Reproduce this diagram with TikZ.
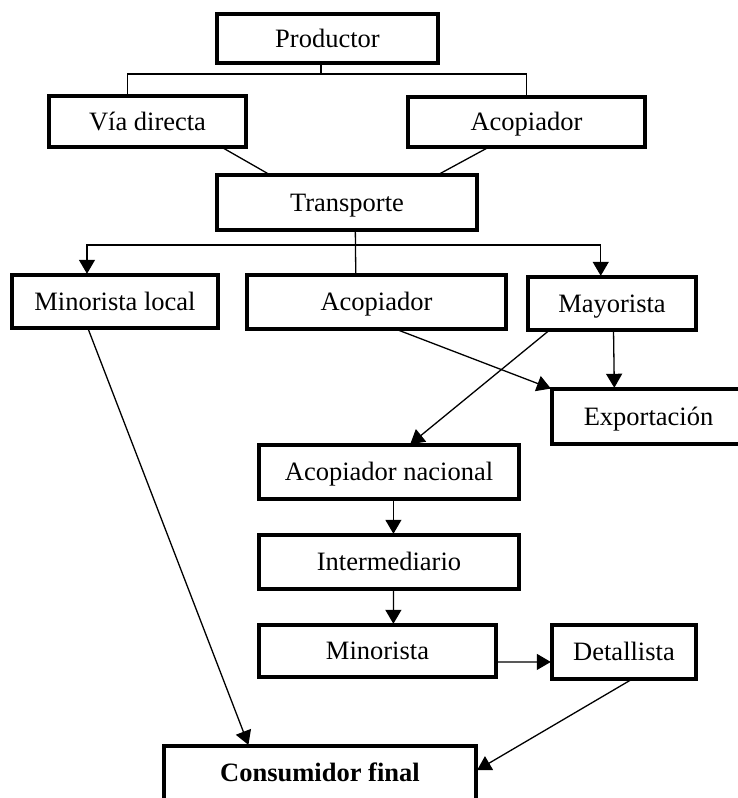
\documentclass[tikz,border=0pt]{standalone}
\usepackage{fontspec}
\setmainfont{Liberation Serif}
\usetikzlibrary{arrows.meta,calc}

\begin{document}
\begin{tikzpicture}[x=1pt,y=-1pt,
  box/.style={draw, line width=3.2pt, rectangle, inner sep=0pt, outer sep=0pt,
    anchor=north west, font=\fontsize{26.5}{30}\selectfont,
    text height=17.5pt, text depth=0pt},
  link/.style={line width=1.3pt},
  flow/.style={line width=1.3pt, shorten >=1.2pt,
    -{Triangle[length=14pt,width=16pt]}},
]
\useasboundingbox (0,0) rectangle (738,798);
\clip (0,0) rectangle (738,798);

% boxes
\node[box, minimum width=221pt, minimum height=49pt] (prod)   at (217,14)  {Productor};
\node[box, minimum width=197pt, minimum height=51pt] (via)    at (49,96)   {Vía directa};
\node[box, minimum width=237pt, minimum height=50pt] (acopA)  at (408,97)  {Acopiador};
\node[box, minimum width=260pt, minimum height=55pt] (trans)  at (217,175) {Transporte};
\node[box, minimum width=206pt, minimum height=53pt] (minloc) at (12,275)  {Minorista local};
\node[box, minimum width=259pt, minimum height=54pt] (acopB)  at (247,275) {Acopiador};
\node[box, minimum width=168pt, minimum height=53pt] (mayor)  at (528,277) {Mayorista};
\node[box, minimum width=193pt, minimum height=55pt] (export) at (552,389) {Exportación};
\node[box, minimum width=260pt, minimum height=54pt] (acnac)  at (259,445) {Acopiador nacional};
\node[box, minimum width=260pt, minimum height=54pt] (inter)  at (259,535) {Intermediario};
\node[box, minimum width=237pt, minimum height=52pt] (minor)  at (259,625) {Minorista};
\node[box, minimum width=144pt, minimum height=54pt] (detal)  at (552,625) {Detallista};
\node[box, line width=3.6pt, minimum width=312pt, minimum height=54pt] (cons) at (164,746)
  {\bfseries Consumidor final};

% productor branches into the two first channels
\coordinate (pS) at ($(prod.south west)!0.47!(prod.south east)$);
\coordinate (vN) at ($(via.north west)!0.40!(via.north east)$);
\draw[link] (pS) -- ++(0,11) coordinate (pJ);
\draw[link] (vN) |- (pJ) -| (acopA.north);

% both channels feed the transport
\draw[link] ($(via.south west)!0.875!(via.south east)$) -- ($(trans.north west)!0.205!(trans.north east)$);
\draw[link] ($(acopA.south west)!0.342!(acopA.south east)$) -- ($(trans.north west)!0.848!(trans.north east)$);

% transport distributes to three buyers
\coordinate (tS) at ($(trans.south west)!0.532!(trans.south east)$);
\draw[link] (tS) -- ($(acopB.north west)!0.42!(acopB.north east)$);
\coordinate (tJ) at ($(tS)+(0,15)$);
\draw[flow] (tJ) -| ($(minloc.north west)!0.364!(minloc.north east)$);
\draw[flow] (tJ) -| ($(mayor.north west)!0.433!(mayor.north east)$);

% towards export and the national chain
\draw[flow] ($(acopB.south west)!0.573!(acopB.south east)$) -- (export.north west);
\draw[flow] ($(mayor.south west)!0.509!(mayor.south east)$) -- ($(export.north west)!0.323!(export.north east)$);
\draw[flow] ($(mayor.south west)!0.129!(mayor.south east)$) -- ($(acnac.north west)!0.578!(acnac.north east)$);

% national chain
\draw[flow] ($(acnac.south west)!0.517!(acnac.south east)$) -- ($(inter.north west)!0.517!(inter.north east)$);
\draw[flow] ($(inter.south west)!0.517!(inter.south east)$) -- ($(minor.north west)!0.567!(minor.north east)$);
\draw[flow] ($(minor.north east)!0.71!(minor.south east)$) -- ($(detal.north west)!0.684!(detal.south west)$);

% to the final consumer
\draw[flow] ($(minloc.south west)!0.368!(minloc.south east)$) -- ($(cons.north west)!0.272!(cons.north east)$);
\draw[flow] ($(detal.south west)!0.558!(detal.south east)$) -- ($(cons.north east)!0.46!(cons.south east)$);
\end{tikzpicture}
\end{document}
